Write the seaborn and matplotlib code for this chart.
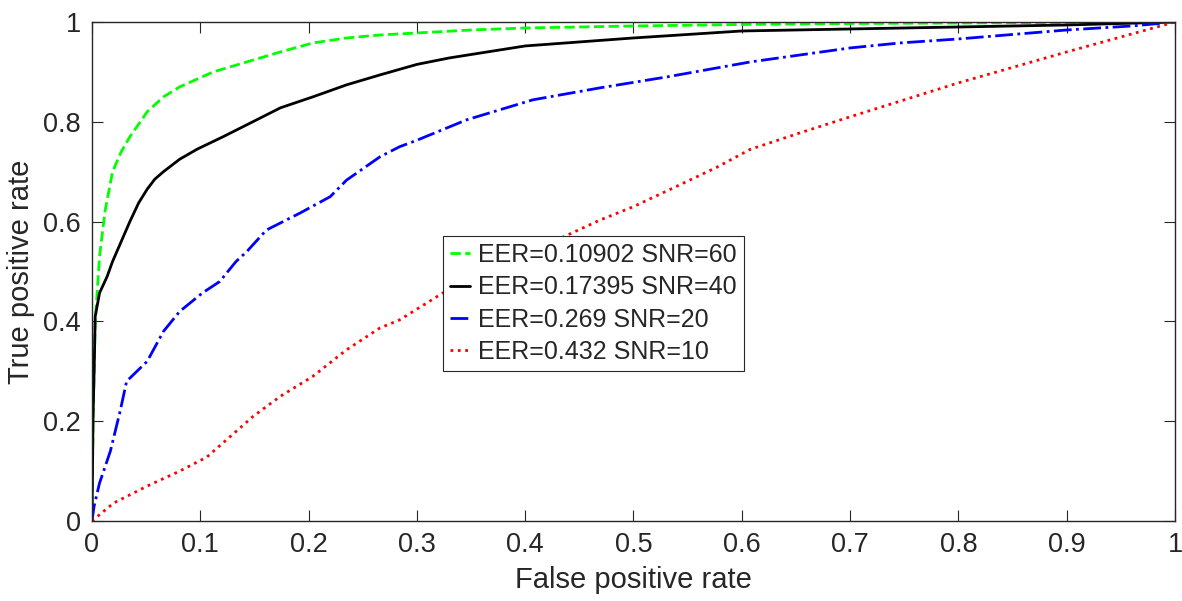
"""Curvas ROC para diferentes níveis de SNR (estilo MATLAB)."""

import matplotlib
matplotlib.use("Agg")
import matplotlib.pyplot as plt
import pandas as pd
import seaborn as sns
from matplotlib.ticker import FixedLocator, FuncFormatter

sns.set_style("ticks")
plt.rcParams["font.family"] = ["Liberation Sans", "DejaVu Sans"]

# Valores.
fpr_snr60 = [0, 0.001, 0.003, 0.007, 0.012, 0.019, 0.027, 0.035, 0.051, 0.066,
             0.081, 0.112, 0.143, 0.174, 0.204, 0.235, 0.266, 0.30, 0.35, 0.40,
             0.50, 0.60, 0.70, 0.80, 0.90, 1.0]
tpr_snr60 = [0, 0.20, 0.40, 0.53, 0.62, 0.70, 0.74, 0.77, 0.82, 0.85,
             0.87, 0.90, 0.92, 0.94, 0.958, 0.968, 0.974, 0.978, 0.984, 0.988,
             0.992, 0.995, 0.997, 0.998, 0.999, 1.0]

fpr_snr40 = [0, 0.0005, 0.001, 0.002, 0.003, 0.007, 0.014, 0.019, 0.027, 0.035,
             0.043, 0.051, 0.058, 0.066, 0.081, 0.097, 0.121, 0.143, 0.174, 0.204,
             0.235, 0.266, 0.30, 0.33, 0.40, 0.50, 0.60, 0.70, 0.80, 0.90, 1.0]
tpr_snr40 = [0, 0.10, 0.21, 0.30, 0.41, 0.457, 0.49, 0.52, 0.56, 0.60,
             0.637, 0.665, 0.685, 0.70, 0.725, 0.745, 0.77, 0.794, 0.828, 0.85,
             0.874, 0.894, 0.915, 0.928, 0.952, 0.968, 0.982, 0.986, 0.99, 0.994, 1.0]

fpr_snr20 = [0, 0.002, 0.007, 0.017, 0.026, 0.032, 0.051, 0.066, 0.081, 0.102,
             0.118, 0.133, 0.143, 0.161, 0.192, 0.22, 0.235, 0.266, 0.284, 0.30,
             0.346, 0.407, 0.469, 0.531, 0.608, 0.70, 0.746, 0.80, 0.90, 0.96, 1.0]
tpr_snr20 = [0, 0.03, 0.076, 0.14, 0.22, 0.28, 0.32, 0.38, 0.42, 0.457,
             0.48, 0.52, 0.54, 0.583, 0.617, 0.65, 0.683, 0.73, 0.75, 0.763,
             0.804, 0.844, 0.868, 0.89, 0.92, 0.948, 0.958, 0.966, 0.984, 0.992, 1.0]

fpr_snr10 = [0, 0.02, 0.051, 0.081, 0.106, 0.127, 0.149, 0.174, 0.204, 0.235,
             0.266, 0.284, 0.324, 0.37, 0.435, 0.469, 0.50, 0.546, 0.577, 0.608,
             0.654, 0.70, 0.80, 0.90, 1.0]
tpr_snr10 = [0, 0.036, 0.07, 0.10, 0.128, 0.168, 0.21, 0.25, 0.29, 0.343,
             0.387, 0.403, 0.457, 0.503, 0.569, 0.603, 0.63, 0.677, 0.709, 0.745,
             0.778, 0.81, 0.878, 0.94, 1.0]

labels = ["EER=0.10902 SNR=60", "EER=0.17395 SNR=40",
          "EER=0.269 SNR=20", "EER=0.432 SNR=10"]
x_ticks = [0, 0.1, 0.2, 0.3, 0.4, 0.5, 0.6, 0.7, 0.8, 0.9, 1]
y_ticks = [0, 0.2, 0.4, 0.6, 0.8, 1]

curves = [(fpr_snr60, tpr_snr60), (fpr_snr40, tpr_snr40),
          (fpr_snr20, tpr_snr20), (fpr_snr10, tpr_snr10)]
colors = ["#00ff00", "#000000", "#0000ff", "#ff0000"]
styles = ["--", "-", "-.", ":"]

fig = plt.figure(figsize=(11.82, 6.01), dpi=100)
ax = fig.add_axes([0.0778, 0.1331, 0.9163, 0.8303])

for (fpr, tpr), lab, col, ls in zip(curves, labels, colors, styles):
    df = pd.DataFrame({"fpr": fpr, "tpr": tpr})
    sns.lineplot(data=df, x="fpr", y="tpr", ax=ax, sort=False, estimator=None,
                 color=col, linestyle=ls, linewidth=2.0, label=lab)

ax.set_xlim(0, 1)
ax.set_ylim(0, 1)
ax.xaxis.set_major_locator(FixedLocator(x_ticks))
ax.yaxis.set_major_locator(FixedLocator(y_ticks))
fmt = FuncFormatter(lambda v, _: f"{v:g}")
ax.xaxis.set_major_formatter(fmt)
ax.yaxis.set_major_formatter(fmt)

for side in ["top", "right", "bottom", "left"]:
    ax.spines[side].set_visible(True)
    ax.spines[side].set_color("#262626")
    ax.spines[side].set_linewidth(1.0)
ax.tick_params(direction="in", length=8, width=0.8, color="#262626",
               top=True, right=True, labelsize=19.5, labelcolor="#262626", pad=8)

ax.set_xlabel("False positive rate", fontsize=21, color="#262626", labelpad=6)
ax.set_ylabel("True positive rate", fontsize=21, color="#262626", labelpad=6)

leg = ax.legend(loc="center", bbox_to_anchor=(0.463, 0.436), fontsize=18,
                frameon=True, fancybox=False, framealpha=1, edgecolor="#262626",
                handlelength=0.8, handletextpad=0.3, labelspacing=0.33,
                borderpad=0.3, borderaxespad=0)
leg.get_frame().set_linewidth(0.8)

fig.savefig("out.png", dpi=100)
